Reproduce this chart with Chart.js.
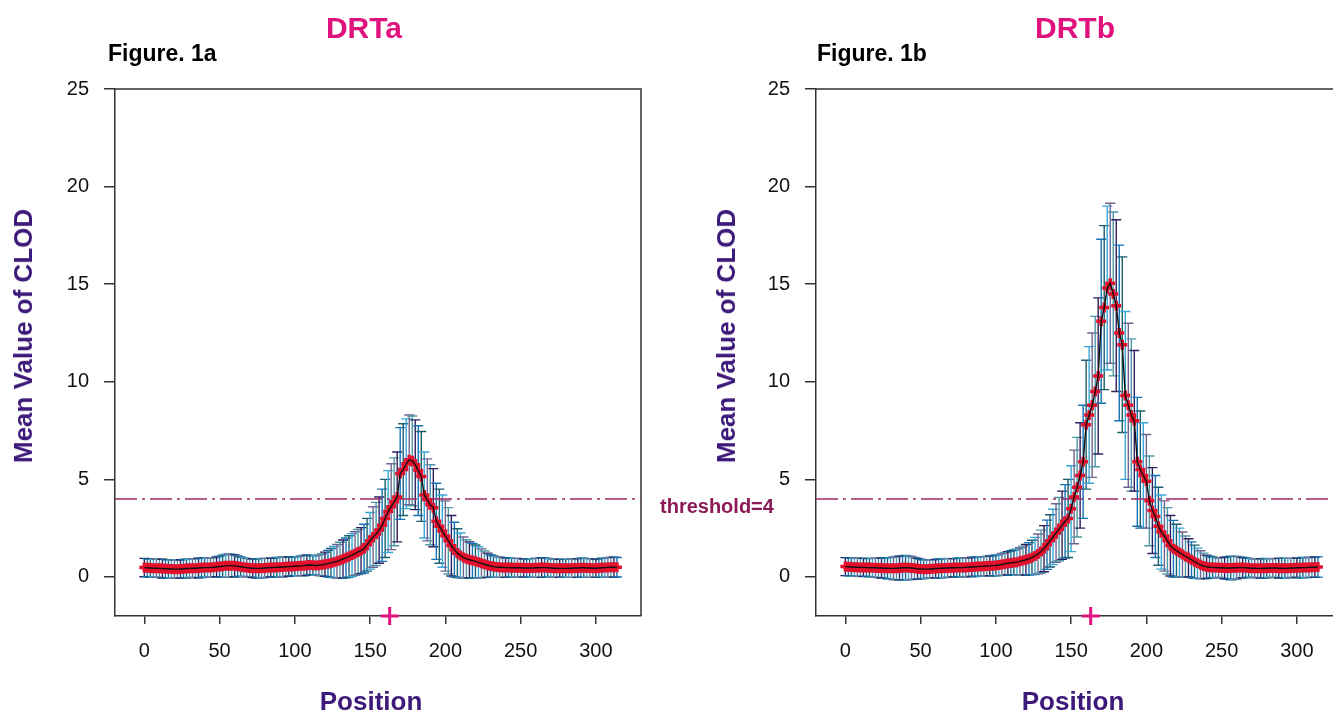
<!DOCTYPE html>
<html>
<head>
<meta charset="utf-8">
<script src="https://cdn.jsdelivr.net/npm/chart.js@4.4.1/dist/chart.umd.min.js"></script>
<style>
html,body{margin:0;padding:0;background:#fff;overflow:hidden;width:1333px;height:713px;}
body{position:relative;font-family:"Liberation Sans",Arial,sans-serif;}
canvas{position:absolute;top:0;}
#cA{left:0;}
#cB{left:660px;}
.lbl{position:absolute;font-weight:bold;white-space:nowrap;line-height:1;}
.ttl{font-size:30px;color:#e0127e;top:13px;transform:translateX(-50%);}
.fig{font-size:23px;color:#000;top:42px;}
.ylab{font-size:26px;color:#3d1a7a;transform:translate(-50%,-50%) rotate(-90deg);}
.xlab{font-size:26px;color:#3d1a7a;transform:translate(-50%,-50%);}
.thr{font-size:20px;color:#8b1a57;left:660px;top:496px;}
</style>
</head>
<body>
<canvas id="cA" width="660" height="713"></canvas>
<canvas id="cB" width="700" height="713"></canvas>

<div class="lbl ttl" style="left:364px;">DRTa</div>
<div class="lbl ttl" style="left:1075px;">DRTb</div>
<div class="lbl fig" style="left:108px;">Figure. 1a</div>
<div class="lbl fig" style="left:817px;">Figure. 1b</div>
<div class="lbl ylab" style="left:23px;top:336px;">Mean Value of CLOD</div>
<div class="lbl ylab" style="left:726px;top:336px;">Mean Value of CLOD</div>
<div class="lbl xlab" style="left:371px;top:701px;">Position</div>
<div class="lbl xlab" style="left:1073px;top:701px;">Position</div>
<div class="lbl thr">threshold=4</div>

<script>
(function(){
  // marker positions (shared by both traits)
  const positions = [
    0,2,4,6,8,10,12,14,16,18,
    20,22,24,26,28,30,32,34,36,38,
    40,42,44,46,48,50,52,54,56,58,
    60,62,64,66,68,70,72,74,76,78,
    80,82,84,86,88,90,92,94,96,98,
    100,102,104,106,108,110,112,114,116,118,
    120,122,124,126,128,130,132,134,136,138,
    140,142,144,146,148,150,152,154,156,158,
    160,162,164,166,168,170,172,174,176,178,
    180,182,184,186,188,190,192,194,196,198,
    200,202,204,206,208,210,212,214,216,218,
    220,222,224,226,228,230,232,234,236,238,
    240,242,244,246,248,250,252,254,256,258,
    260,262,264,266,268,270,272,274,276,278,
    280,282,284,286,288,290,292,294,296,298,
    300,302,304,306,308,310,312,314
  ];

  // DRTa mean CLOD and error half-width
  const meanA = [
    0.48,0.47,0.46,0.45,0.45,0.44,0.43,0.42,0.42,0.41,
    0.40,0.40,0.41,0.42,0.43,0.44,0.45,0.45,0.46,0.47,
    0.48,0.48,0.49,0.50,0.52,0.53,0.55,0.57,0.58,0.58,
    0.57,0.55,0.52,0.50,0.48,0.46,0.45,0.44,0.44,0.45,
    0.46,0.47,0.48,0.49,0.50,0.50,0.51,0.52,0.53,0.54,
    0.55,0.56,0.57,0.58,0.60,0.61,0.60,0.59,0.60,0.62,
    0.65,0.68,0.72,0.76,0.80,0.86,0.92,0.98,1.05,1.12,
    1.20,1.28,1.35,1.45,1.65,1.85,2.05,2.20,2.40,2.65,
    3.00,3.35,3.60,3.85,4.10,5.30,5.50,5.80,6.00,5.95,
    5.75,5.45,5.15,4.20,3.95,3.70,3.55,2.85,2.60,2.35,
    2.10,1.85,1.60,1.40,1.22,1.10,1.00,0.93,0.88,0.84,
    0.80,0.75,0.70,0.65,0.60,0.56,0.53,0.51,0.50,0.49,
    0.48,0.48,0.47,0.47,0.47,0.47,0.46,0.46,0.46,0.46,
    0.47,0.47,0.48,0.48,0.47,0.46,0.45,0.45,0.44,0.44,
    0.44,0.45,0.45,0.46,0.46,0.47,0.47,0.46,0.46,0.45,
    0.45,0.46,0.47,0.48,0.49,0.50,0.50,0.50
  ];
  const errA = [
    0.47,0.46,0.46,0.45,0.46,0.47,0.48,0.47,0.46,0.45,
    0.45,0.46,0.47,0.48,0.48,0.47,0.48,0.49,0.50,0.50,
    0.49,0.48,0.48,0.49,0.51,0.54,0.57,0.59,0.60,0.58,
    0.56,0.53,0.50,0.48,0.47,0.47,0.48,0.49,0.50,0.50,
    0.49,0.48,0.48,0.49,0.50,0.51,0.51,0.50,0.49,0.48,
    0.48,0.49,0.51,0.53,0.52,0.50,0.49,0.50,0.53,0.57,
    0.62,0.68,0.74,0.80,0.86,0.92,0.97,1.02,1.06,1.10,
    1.12,1.15,1.18,1.25,1.35,1.45,1.55,1.62,1.70,1.85,
    2.00,2.10,2.20,2.25,2.30,2.35,2.35,2.30,2.30,2.30,
    2.30,2.30,2.30,2.20,2.10,2.05,2.00,1.95,1.90,1.85,
    1.80,1.70,1.55,1.40,1.25,1.15,1.05,0.98,0.92,0.88,
    0.84,0.80,0.74,0.68,0.62,0.58,0.55,0.53,0.52,0.51,
    0.50,0.49,0.48,0.48,0.48,0.47,0.47,0.47,0.48,0.48,
    0.49,0.49,0.50,0.49,0.48,0.47,0.47,0.46,0.46,0.46,
    0.46,0.47,0.47,0.48,0.48,0.49,0.49,0.48,0.48,0.47,
    0.47,0.48,0.49,0.50,0.50,0.51,0.51,0.50
  ];

  // DRTb mean CLOD and error half-width
  const meanB = [
    0.53,0.52,0.51,0.50,0.50,0.49,0.49,0.48,0.48,0.47,
    0.47,0.46,0.46,0.45,0.45,0.44,0.44,0.45,0.46,0.47,
    0.48,0.47,0.46,0.44,0.42,0.41,0.40,0.40,0.41,0.42,
    0.43,0.44,0.45,0.46,0.46,0.47,0.47,0.48,0.48,0.48,
    0.49,0.50,0.51,0.52,0.53,0.54,0.55,0.56,0.57,0.58,
    0.59,0.61,0.64,0.67,0.70,0.72,0.74,0.76,0.80,0.84,
    0.88,0.93,1.00,1.08,1.18,1.30,1.45,1.65,1.85,2.05,
    2.25,2.45,2.65,2.85,3.00,3.50,4.10,4.60,5.20,5.90,
    7.80,8.30,8.80,9.50,10.30,13.10,13.80,14.80,15.05,14.50,
    13.90,12.50,11.90,9.30,8.80,8.30,8.00,5.90,5.50,5.20,
    4.90,3.90,3.40,3.10,2.60,2.30,2.10,1.85,1.60,1.45,
    1.35,1.25,1.15,1.05,0.98,0.88,0.78,0.70,0.62,0.56,
    0.52,0.50,0.49,0.48,0.47,0.47,0.46,0.46,0.46,0.47,
    0.47,0.48,0.48,0.47,0.46,0.45,0.45,0.44,0.44,0.45,
    0.45,0.46,0.46,0.46,0.45,0.45,0.44,0.45,0.46,0.46,
    0.47,0.47,0.48,0.48,0.49,0.50,0.50,0.51
  ];
  const errB = [
    0.46,0.46,0.45,0.46,0.47,0.47,0.46,0.46,0.47,0.48,
    0.49,0.50,0.51,0.52,0.54,0.56,0.58,0.60,0.61,0.62,
    0.62,0.61,0.59,0.56,0.53,0.50,0.48,0.47,0.46,0.46,
    0.47,0.48,0.49,0.49,0.48,0.47,0.47,0.48,0.49,0.49,
    0.48,0.48,0.49,0.50,0.50,0.49,0.49,0.50,0.51,0.52,
    0.53,0.54,0.56,0.58,0.60,0.62,0.64,0.67,0.70,0.74,
    0.78,0.83,0.88,0.95,1.02,1.10,1.18,1.26,1.34,1.42,
    1.50,1.62,1.75,1.88,2.00,2.20,2.40,2.55,2.70,2.90,
    3.30,3.50,3.70,3.85,4.00,4.20,4.20,4.20,4.10,4.20,
    4.40,4.50,4.50,4.30,4.20,3.90,3.60,3.30,3.00,2.70,
    2.40,2.30,2.20,2.10,2.00,1.90,1.80,1.70,1.55,1.45,
    1.35,1.25,1.15,1.05,0.98,0.92,0.85,0.78,0.72,0.66,
    0.60,0.56,0.53,0.51,0.50,0.52,0.55,0.58,0.60,0.60,
    0.58,0.55,0.52,0.50,0.49,0.48,0.48,0.49,0.50,0.50,
    0.49,0.48,0.48,0.49,0.50,0.51,0.51,0.50,0.49,0.49,
    0.50,0.51,0.52,0.52,0.51,0.51,0.52,0.52
  ];

  const yTicks = [0,5,10,15,20,25];
  const xTicks = [0,50,100,150,200,250,300];
  const threshold = 4;
  const qtlPos = 163;

  const barColors = [
    '#2e1f5e','#1572b5','#1b5e6e','#3aa6d6','#6f6391','#4f96a4'
  ];
  const FONT = '"Liberation Sans", Arial, sans-serif';

  function makeChart(id, means, errs, yWidth, rightPad, rightBorder){
    const pts = positions.map((x,i)=>({x:x, y:means[i]}));

    const frame = {
      id:'frame',
      beforeDatasetsDraw(chart){
        const a = chart.chartArea, ctx = chart.ctx;
        ctx.save();
        ctx.strokeStyle = '#333';
        ctx.lineWidth = 1.5;
        ctx.beginPath();
        ctx.moveTo(a.left, a.top);
        ctx.lineTo(a.right + (rightBorder ? 0 : 40), a.top);
        if(rightBorder){ ctx.lineTo(a.right, a.bottom); }
        ctx.stroke();
        ctx.restore();
      }
    };

    const errBars = {
      id:'errBars',
      beforeDatasetsDraw(chart){
        const ctx = chart.ctx, xs = chart.scales.x, ys = chart.scales.y;
        ctx.save();
        ctx.lineWidth = 1.4;
        positions.forEach((p,i)=>{
          const px = xs.getPixelForValue(p);
          const hi = ys.getPixelForValue(means[i]+errs[i]);
          const lo = ys.getPixelForValue(means[i]-errs[i]);
          ctx.strokeStyle = barColors[i % barColors.length];
          ctx.beginPath();
          ctx.moveTo(px,hi); ctx.lineTo(px,lo);
          ctx.moveTo(px-5,hi); ctx.lineTo(px+5,hi);
          ctx.moveTo(px-5,lo); ctx.lineTo(px+5,lo);
          ctx.stroke();
        });
        ctx.restore();
      }
    };

    return new Chart(document.getElementById(id).getContext('2d'), {
      type:'scatter',
      data:{
        datasets:[
          {data:[{x:qtlPos, y:-2}], pointStyle:'cross', pointRadius:9, pointBorderWidth:3,
           borderColor:'#e0127e', pointBorderColor:'#e0127e', showLine:false, clip:false, order:0},
          {data:pts, showLine:true, borderColor:'#111', borderWidth:1.4, pointRadius:0, order:1},
          {data:pts, showLine:false, pointStyle:'cross', pointRadius:5, pointBorderWidth:3.5,
           pointBorderColor:'#e3102c', borderColor:'#e3102c', order:2},
          {data:[{x:-19.5, y:threshold},{x:330, y:threshold}], showLine:true, pointRadius:0,
           borderColor:'#a02a66', borderWidth:1.5, borderDash:[22,5,3,5], order:3}
        ]
      },
      options:{
        responsive:false,
        animation:false,
        devicePixelRatio:1,
        layout:{padding:{top:89, right:rightPad, left:0, bottom:0}},
        plugins:{legend:{display:false}, tooltip:{enabled:false}},
        scales:{
          x:{
            type:'linear', min:-19.5, max:330,
            afterBuildTicks: s => { s.ticks = xTicks.map(v=>({value:v})); },
            afterFit: s => { s.height = 97; },
            grid:{drawOnChartArea:false, drawTicks:true, tickLength:8, color:'#333', lineWidth:1.5},
            border:{display:true, color:'#333', width:1.5},
            ticks:{padding:15, autoSkip:false, maxRotation:0, color:'#111', font:{size:20, family:FONT}}
          },
          y:{
            type:'linear', min:-2, max:25,
            afterBuildTicks: s => { s.ticks = yTicks.map(v=>({value:v})); },
            afterFit: s => { s.width = yWidth; },
            grid:{drawOnChartArea:false, drawTicks:true, tickLength:11, color:'#333', lineWidth:1.5},
            border:{display:true, color:'#333', width:1.5},
            ticks:{padding:15, color:'#111', font:{size:20, family:FONT}}
          }
        }
      },
      plugins:[frame, errBars]
    });
  }

  makeChart('cA', meanA, errA, 115, 19, true);
  makeChart('cB', meanB, errB, 156, 18, false);
})();
</script>
</body>
</html>
